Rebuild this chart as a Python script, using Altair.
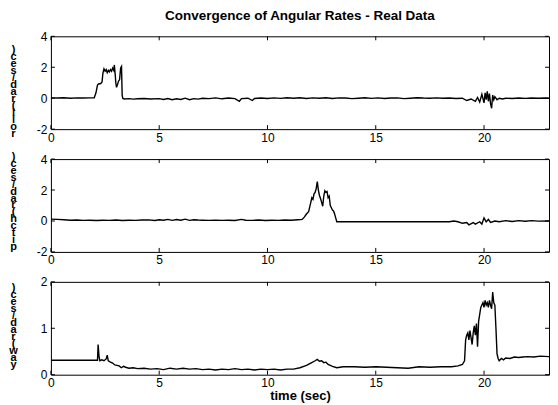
import altair as alt
import pandas as pd

# ---------------- data ----------------
roll_t = [0, 0.3, 0.6, 0.9, 1.2, 1.5, 1.8, 2.0, 2.08, 2.15, 2.2, 2.3, 2.36, 2.4, 2.45, 2.5,
          2.55, 2.6, 2.65, 2.7, 2.75, 2.8, 2.85, 2.9, 2.93, 2.97, 3.0, 3.03, 3.08, 3.12, 3.17,
          3.22, 3.26, 3.29, 3.32, 3.4, 3.6, 3.8, 4.0, 4.3, 4.6, 5.0, 5.2, 5.4, 5.6, 5.8, 6.0,
          6.2, 6.4, 6.6, 6.8, 7.0, 7.3, 7.6, 7.9, 8.2, 8.5, 8.7, 8.8, 9.1, 9.3, 9.4, 9.7, 10.0,
          10.3, 10.6, 10.9, 11.2, 11.5, 11.8, 12.1, 12.4, 12.7, 13.0, 13.3, 13.6, 13.9, 14.2,
          14.5, 14.8, 15.1, 15.4, 15.7, 16.0, 16.3, 16.6, 16.9, 17.2, 17.5, 17.8, 18.1, 18.4,
          18.7, 19.0, 19.2, 19.4, 19.6, 19.7, 19.8, 19.9, 20.0, 20.05, 20.1, 20.15, 20.2, 20.25,
          20.3, 20.35, 20.4, 20.45, 20.5, 20.6, 20.7, 20.85, 21.0, 21.3, 21.6, 21.9, 22.2,
          22.5, 22.8, 23.0]
roll_v = [0.02, 0.01, 0.03, 0.0, 0.02, 0.01, 0.02, 0.03, 0.35, 0.85, 0.92, 0.95, 1.05, 1.6,
          1.9, 1.75, 1.85, 1.65, 1.8, 1.7, 1.85, 1.75, 1.95, 1.8, 2.15, 1.5, 0.95, 0.7, 0.9,
          1.1, 1.2, 1.95, 2.05, 0.2, -0.02, -0.05, -0.03, -0.06, -0.04, -0.02, -0.05, -0.03,
          -0.08, -0.02, -0.1, -0.04, -0.08, 0.0, -0.1, -0.03, -0.06, 0.0, -0.03, 0.02, -0.04,
          0.01, -0.03, -0.2, -0.03, 0.0, -0.15, -0.02, 0.01, -0.02, 0.02, -0.01, 0.03, 0.0,
          0.03, -0.02, 0.02, 0.0, 0.03, -0.02, 0.02, 0.01, -0.03, 0.0, 0.03, -0.01, 0.02,
          -0.02, 0.01, 0.02, -0.03, 0.0, 0.03, 0.01, 0.0, 0.02, 0.0, 0.01, -0.02, 0.0, -0.15,
          -0.05, -0.2, 0.05, -0.25, 0.25, -0.3, 0.35, -0.1, 0.45, -0.2, 0.3, -0.35, -0.65, 0.2,
          -0.1, 0.1, -0.1, 0.0, -0.05, 0.0, -0.02, 0.01, -0.01, 0.01, 0.0, 0.01, 0.0]

pitch_t = [0, 0.3, 0.6, 0.9, 1.2, 1.5, 1.8, 2.1, 2.4, 2.7, 3.0, 3.3, 3.6, 3.9, 4.2, 4.5, 4.8,
           5.0, 5.2, 5.4, 5.6, 5.8, 6.0, 6.2, 6.4, 6.6, 6.8, 7.0, 7.3, 7.6, 7.9, 8.2, 8.5, 8.8,
           9.0, 9.3, 9.6, 9.9, 10.2, 10.5, 10.8, 11.1, 11.4, 11.6, 11.7, 11.8, 11.9, 11.95,
           12.0, 12.05, 12.1, 12.15, 12.2, 12.25, 12.3, 12.35, 12.4, 12.45, 12.5, 12.55, 12.6,
           12.65, 12.7, 12.75, 12.8, 12.85, 12.9, 12.95, 13.0, 13.05, 13.1, 13.15, 13.2, 15.0,
           17.0, 18.4, 18.6, 18.8, 19.0, 19.2, 19.3, 19.5, 19.6, 19.8, 19.9, 20.0, 20.1, 20.2,
           20.3, 20.5, 20.7, 21.0, 21.3, 21.6, 21.9, 22.2, 22.5, 23.0]
pitch_v = [0.12, 0.1, 0.08, 0.05, 0.06, 0.04, 0.05, 0.03, 0.05, 0.04, 0.06, 0.03, 0.05, 0.04,
           0.06, 0.07, 0.03, 0.08, 0.05, 0.1, 0.04, 0.09, 0.05, 0.12, 0.04, 0.08, 0.06, 0.05,
           0.04, 0.05, 0.04, 0.05, 0.03, 0.1, 0.05, 0.04, 0.06, 0.03, 0.05, 0.04, 0.06, 0.05,
           0.08, 0.1, 0.25, 0.45, 0.6, 0.9, 1.2, 1.5, 1.4, 1.75, 1.85, 2.1, 2.55, 2.0, 1.65,
           1.45, 1.2, 0.95, 1.6, 1.95, 1.85, 1.9, 1.5, 1.6, 1.0, 0.85, 0.7, 0.65, 0.45, 0.2,
           -0.05, -0.05, -0.05, -0.05, 0.0, -0.05, -0.15, -0.1, -0.25, -0.1, -0.2, -0.05, -0.2,
           0.2, -0.05, 0.1, -0.1, 0.0, -0.05, 0.02, -0.03, 0.02, -0.02, 0.02, -0.01, 0.0]

yaw_t = [0, 0.5, 1.0, 1.5, 2.0, 2.15, 2.18, 2.22, 2.26, 2.35, 2.45, 2.55, 2.6, 2.65, 2.75,
         2.85, 2.95, 3.05, 3.15, 3.25, 3.35, 3.45, 3.6, 3.8, 4.0, 4.3, 4.6, 4.9, 5.2, 5.5, 5.8,
         6.1, 6.4, 6.7, 7.0, 7.3, 7.6, 7.9, 8.2, 8.5, 8.8, 9.1, 9.4, 9.7, 10.0, 10.3, 10.6,
         10.9, 11.2, 11.5, 11.8, 12.0, 12.2, 12.3, 12.4, 12.5, 12.6, 12.7, 12.8, 12.9, 13.0,
         13.2, 13.5, 14.0, 14.5, 15.0, 15.5, 16.0, 16.5, 17.0, 17.5, 18.0, 18.5, 18.8, 19.0,
         19.1, 19.15, 19.2, 19.25, 19.3, 19.35, 19.4, 19.45, 19.5, 19.55, 19.6, 19.65, 19.7,
         19.75, 19.8, 19.85, 19.9, 19.95, 20.0, 20.05, 20.1, 20.15, 20.2, 20.25, 20.3, 20.35,
         20.4, 20.45, 20.5, 20.55, 20.6, 20.65, 20.7, 20.8, 20.9, 21.0, 21.2, 21.4, 21.6,
         21.8, 22.0, 22.3, 22.6, 23.0]
yaw_v = [0.31, 0.31, 0.31, 0.31, 0.31, 0.31, 0.65, 0.4, 0.3, 0.32, 0.3, 0.34, 0.42, 0.3, 0.27,
         0.25, 0.21, 0.2, 0.19, 0.15, 0.18, 0.16, 0.14, 0.15, 0.13, 0.14, 0.12, 0.13, 0.11,
         0.14, 0.12, 0.14, 0.12, 0.13, 0.11, 0.12, 0.1, 0.12, 0.11, 0.13, 0.11, 0.12, 0.1,
         0.12, 0.11, 0.12, 0.1, 0.12, 0.12, 0.15, 0.2, 0.25, 0.3, 0.33, 0.29, 0.3, 0.26, 0.27,
         0.22, 0.2, 0.18, 0.15, 0.17, 0.17, 0.16, 0.17, 0.16, 0.15, 0.14, 0.17, 0.16, 0.17,
         0.17, 0.19, 0.22, 0.3, 0.75, 0.85, 0.9, 0.75, 0.95, 0.8, 0.65, 0.9, 1.05, 0.85, 1.1,
         0.6, 1.15, 1.3, 1.45, 1.5, 1.55, 1.45, 1.6, 1.5, 1.55, 1.45, 1.6, 1.5, 1.42, 1.78,
         1.55, 1.5, 1.0, 0.45, 0.35, 0.3, 0.35, 0.32, 0.36, 0.35, 0.38, 0.37, 0.38, 0.39,
         0.38, 0.4, 0.39]

x_ticks = [0, 5, 10, 15, 20]
rp_ticks = [-2, 0, 2, 4]
yaw_ticks = [0, 1, 2]

roll_label = list(")ces/dar( llor")
pitch_label = list(")ces/dar( hctip")
yaw_label = list(")ces/dar( way")

title_text = "Convergence of Angular Rates - Real Data"
xtitle_text = "time (sec)"

W, H = 499, 93
FONT = "Liberation Sans"
TL = 4  # inner tick length


def panel(t, v, ydom, yticks, label, label_y, xtitle=None, title=None):
    df = pd.DataFrame({"t": t, "v": v})
    xsc = alt.Scale(domain=[0, 23], nice=False, zero=False)
    ysc = alt.Scale(domain=ydom, nice=False, zero=False)
    xaxis = alt.Axis(values=x_ticks, labelFlush=False, labelOverlap=False, labelPadding=3,
                     titleFontWeight="bold", titleFontSize=13, titlePadding=1,
                     title=xtitle)
    yaxis = alt.Axis(values=yticks, labelExpr="'' + round(datum.value)",
                     labelOverlap=False, labelFlush=False, labelBound=False,
                     title=label, titleAngle=0,
                     titleFontWeight="bold", titleFontSize=11, titleLineHeight=7,
                     titleX=-38, titleY=label_y, titleBaseline="top", titleAlign="center",
                     labelPadding=4)
    line = alt.Chart(df).mark_line(color="black", strokeWidth=1.4, clip=True).encode(
        x=alt.X("t:Q", scale=xsc, axis=xaxis),
        y=alt.Y("v:Q", scale=ysc, axis=yaxis),
    )
    xt = pd.DataFrame({"t": x_ticks})
    yt = pd.DataFrame({"v": [float(y) for y in yticks]})
    top_ticks = alt.Chart(xt).mark_rule(color="black").encode(
        x=alt.X("t:Q", scale=xsc, axis=xaxis), y=alt.value(0), y2=alt.value(TL))
    bot_ticks = alt.Chart(xt).mark_rule(color="black").encode(
        x=alt.X("t:Q", scale=xsc, axis=xaxis), y=alt.value(H), y2=alt.value(H - TL))
    left_ticks = alt.Chart(yt).mark_rule(color="black").encode(
        y=alt.Y("v:Q", scale=ysc, axis=yaxis), x=alt.value(0), x2=alt.value(TL))
    right_ticks = alt.Chart(yt).mark_rule(color="black").encode(
        y=alt.Y("v:Q", scale=ysc, axis=yaxis), x=alt.value(W), x2=alt.value(W - TL))
    props = dict(width=W, height=H)
    if title is not None:
        props["title"] = alt.TitleParams(title, fontSize=13.5, font=FONT, fontWeight="bold",
                                         anchor="middle", frame="group", offset=8,
                                         color="black")
    return alt.layer(line, top_ticks, bot_ticks, left_ticks, right_ticks).properties(**props)


p1 = panel(roll_t, roll_v, [-2, 4], rp_ticks, roll_label, 7, title=title_text)
p2 = panel(pitch_t, pitch_v, [-2, 4], rp_ticks, pitch_label, -9)
p3 = panel(yaw_t, yaw_v, [0, 2], yaw_ticks, yaw_label, 0, xtitle=xtitle_text)

chart = alt.vconcat(p1, p2, p3, spacing=30, bounds="flush").properties(
    padding={"left": 0, "top": 0, "right": 0, "bottom": 0}
).configure_view(stroke="black", strokeWidth=1).configure_axis(
    grid=False, ticks=False, domain=False, labelFont=FONT, titleFont=FONT,
    labelFontSize=12, labelColor="black", titleColor="black"
)

chart.save("out.html", embed_options={"renderer": "svg", "actions": False})
